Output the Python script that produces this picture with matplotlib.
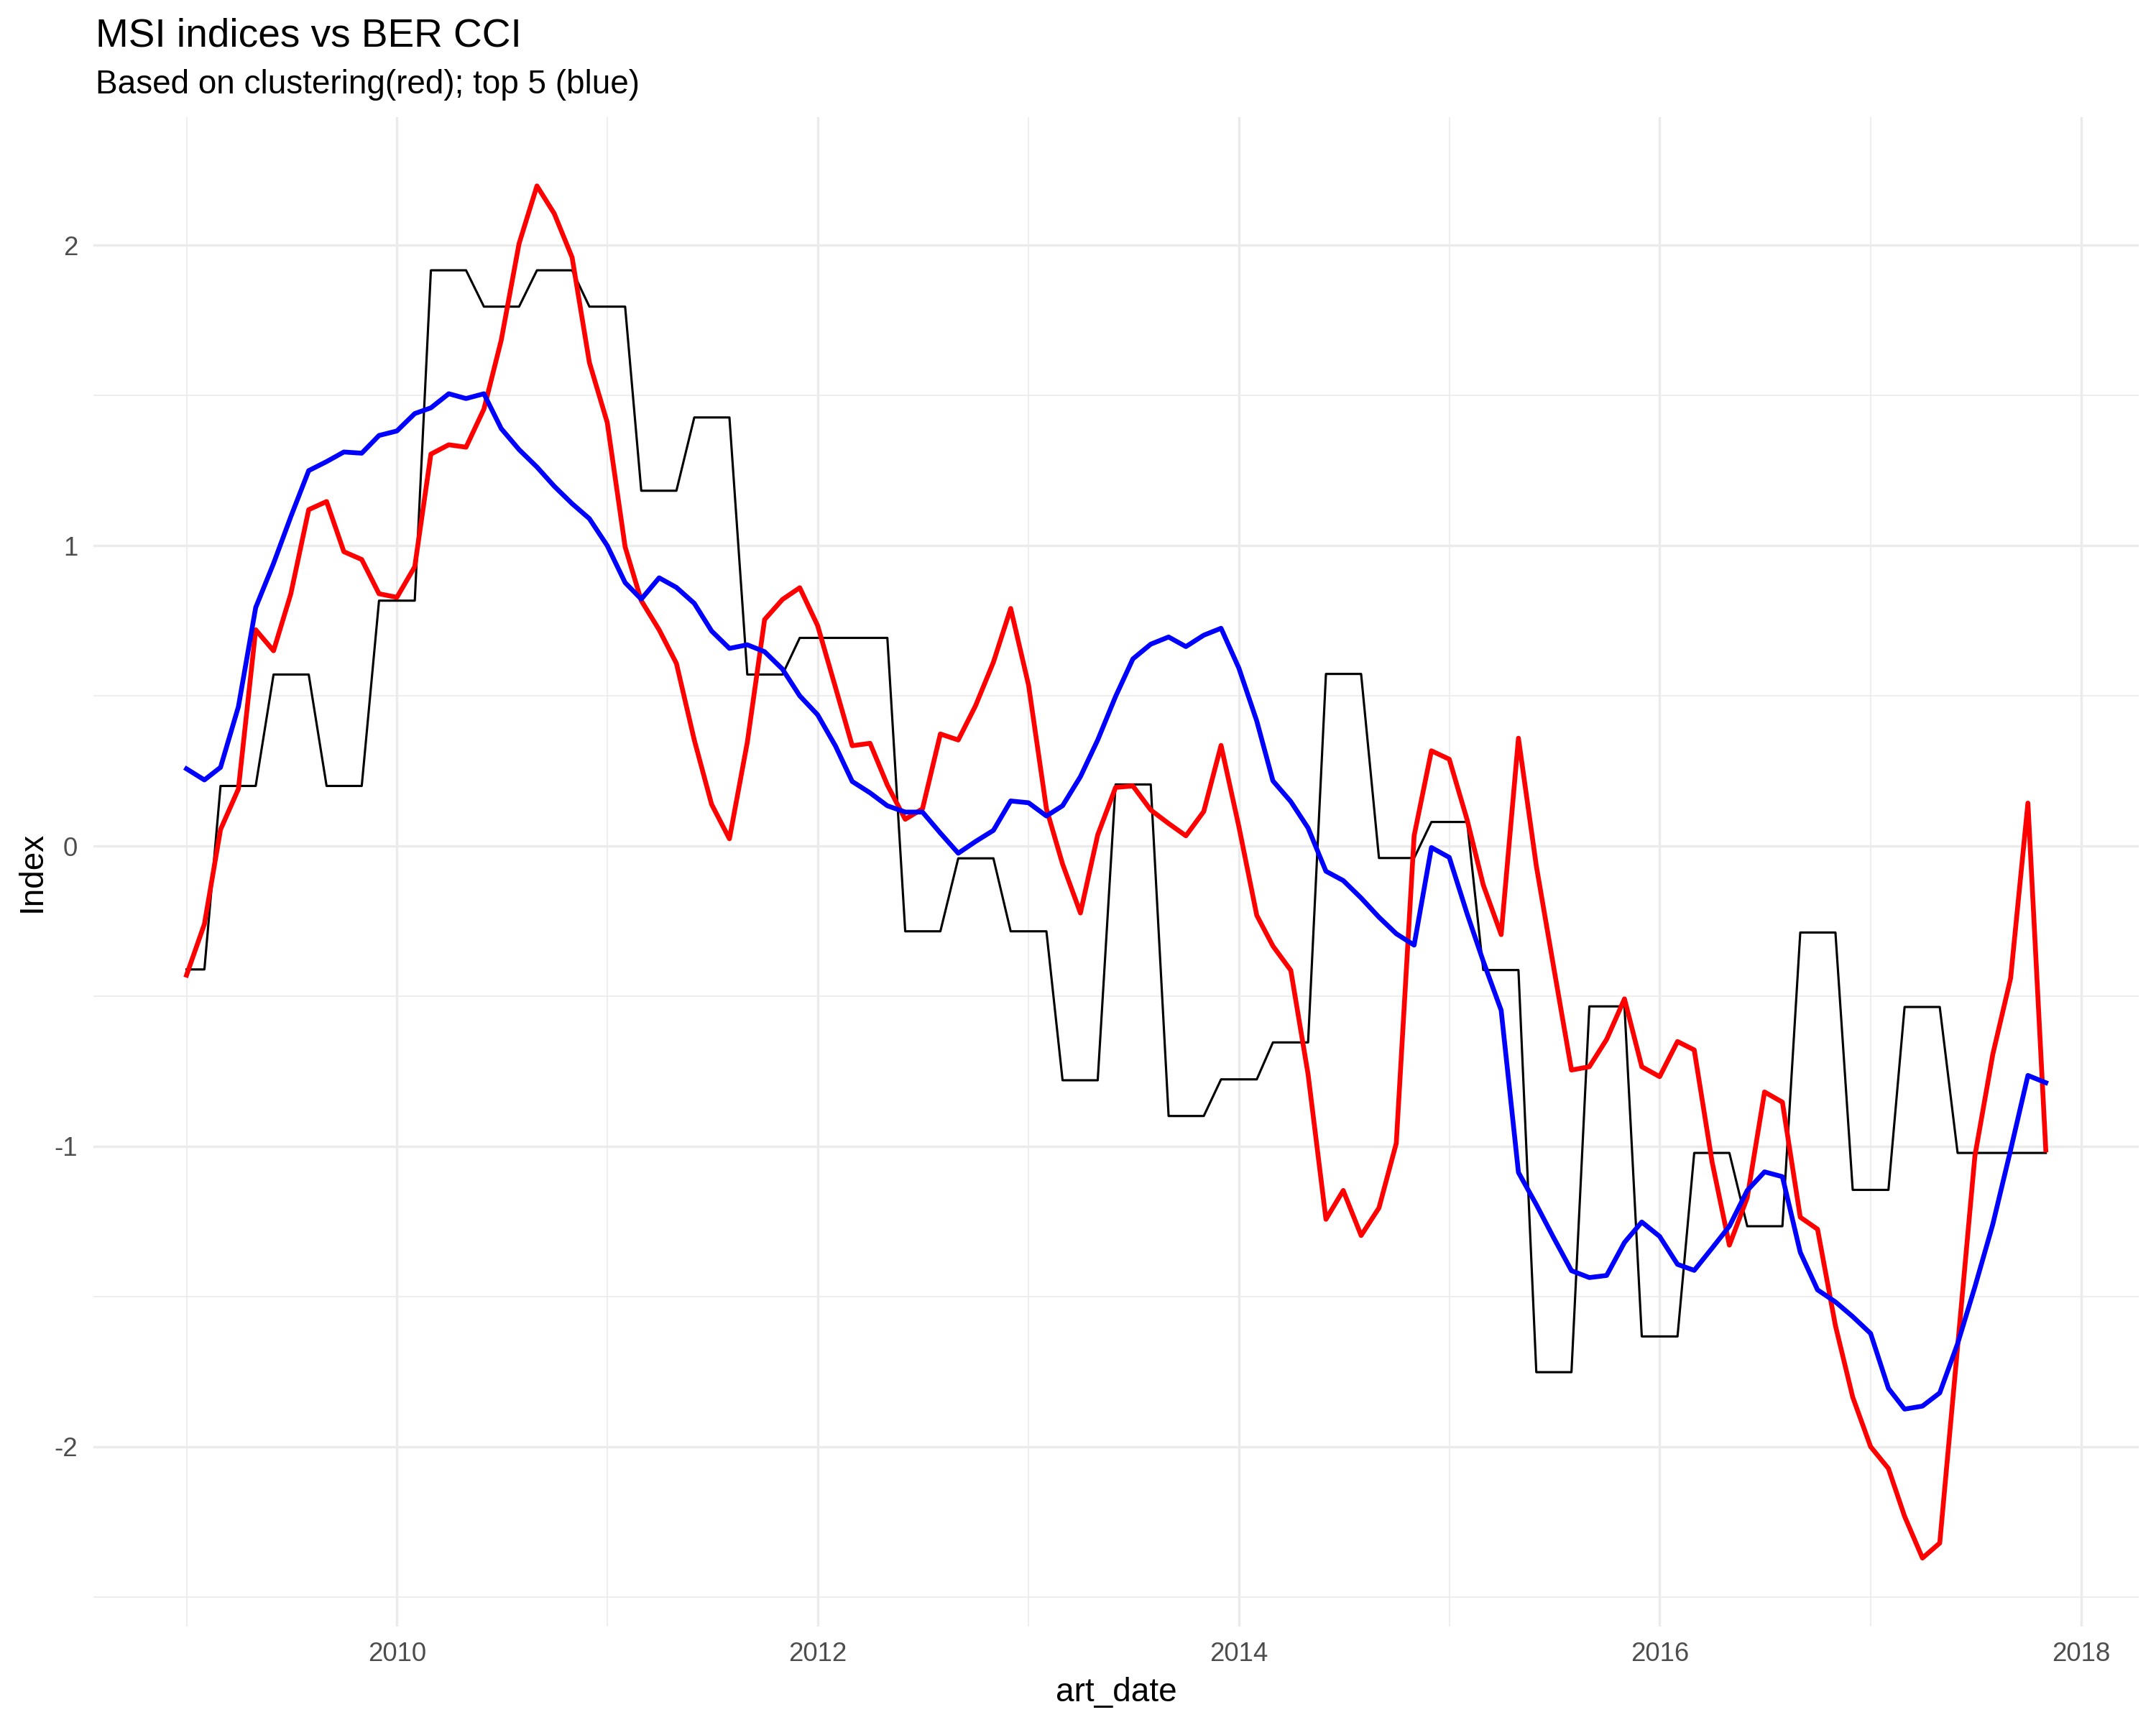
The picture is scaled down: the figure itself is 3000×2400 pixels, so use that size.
import numpy as np
import matplotlib
matplotlib.use("Agg")
import matplotlib.pyplot as plt
import matplotlib.dates as mdates
from matplotlib.ticker import MultipleLocator

# monthly observations, Jan 2009 .. Nov 2017
first_month = "2009-01"
last_month = "2017-11"

msi_cluster = [
    -0.43, -0.26, 0.055, 0.19, 0.72, 0.65, 0.84, 1.12, 1.147, 0.98, 0.954, 0.84,
    0.828, 0.93, 1.305, 1.336, 1.328, 1.455, 1.684, 2.006, 2.198, 2.106, 1.96, 1.61,
    1.41, 0.996, 0.817, 0.72, 0.608, 0.353, 0.139, 0.024, 0.345, 0.754, 0.821, 0.86,
    0.734, 0.528, 0.334, 0.342, 0.203, 0.089, 0.124, 0.373, 0.353, 0.467, 0.612, 0.791,
    0.536, 0.124, -0.06, -0.223, 0.037, 0.195, 0.2, 0.12, 0.075, 0.034, 0.115, 0.335,
    0.064, -0.231, -0.333, -0.414, -0.76, -1.243, -1.147, -1.297, -1.205, -0.99, 0.034, 0.317,
    0.289, 0.087, -0.13, -0.295, 0.359, -0.066, -0.402, -0.746, -0.735, -0.644, -0.509, -0.735,
    -0.768, -0.651, -0.679, -1.052, -1.329, -1.171, -0.819, -0.853, -1.236, -1.276, -1.597, -1.835,
    -2.0, -2.073, -2.232, -2.371, -2.321, -1.667, -1.032, -0.694, -0.44, 0.143, -1.012,
]

msi_top5 = [
    0.257, 0.22, 0.262, 0.464, 0.794, 0.941, 1.097, 1.25, 1.28, 1.312, 1.308, 1.367,
    1.382, 1.44, 1.459, 1.506, 1.49, 1.506, 1.39, 1.32, 1.262, 1.198, 1.14, 1.09,
    1.0, 0.877, 0.822, 0.893, 0.861, 0.808, 0.716, 0.658, 0.67, 0.647, 0.589, 0.5,
    0.437, 0.333, 0.215, 0.177, 0.134, 0.113, 0.113, 0.043, -0.024, 0.015, 0.052, 0.15,
    0.144, 0.1, 0.134, 0.231, 0.353, 0.498, 0.623, 0.672, 0.696, 0.664, 0.702, 0.725,
    0.592, 0.416, 0.217, 0.148, 0.06, -0.084, -0.115, -0.173, -0.237, -0.292, -0.33, -0.005,
    -0.038, -0.226, -0.384, -0.547, -1.087, -1.194, -1.304, -1.414, -1.437, -1.43, -1.32, -1.252,
    -1.3, -1.393, -1.413, -1.339, -1.266, -1.147, -1.085, -1.101, -1.353, -1.478, -1.518, -1.567,
    -1.623, -1.806, -1.875, -1.865, -1.821, -1.657, -1.468, -1.26, -1.012, -0.764, -0.788,
]

ber_cci = [
    -0.411, -0.411, 0.2, 0.2, 0.2, 0.571, 0.571, 0.571, 0.2, 0.2, 0.2, 0.817,
    0.817, 0.817, 1.917, 1.917, 1.917, 1.796, 1.796, 1.796, 1.917, 1.917, 1.917, 1.796,
    1.796, 1.796, 1.183, 1.183, 1.183, 1.427, 1.427, 1.427, 0.571, 0.571, 0.571, 0.693,
    0.693, 0.693, 0.693, 0.693, 0.693, -0.284, -0.284, -0.284, -0.041, -0.041, -0.041, -0.284,
    -0.284, -0.284, -0.78, -0.78, -0.78, 0.205, 0.205, 0.205, -0.899, -0.899, -0.899, -0.777,
    -0.777, -0.777, -0.654, -0.654, -0.654, 0.573, 0.573, 0.573, -0.04, -0.04, -0.04, 0.08,
    0.08, 0.08, -0.413, -0.413, -0.413, -1.752, -1.752, -1.752, -0.534, -0.534, -0.534, -1.633,
    -1.633, -1.633, -1.022, -1.022, -1.022, -1.266, -1.266, -1.266, -0.288, -0.288, -0.288, -1.145,
    -1.145, -1.145, -0.536, -0.536, -0.536, -1.022, -1.022, -1.022, -1.022, -1.022, -1.022,
]

art_date = np.arange(np.datetime64(first_month), np.datetime64(last_month) + 1,
                     dtype="datetime64[M]").astype("datetime64[D]")

plt.rcParams["font.family"] = ["Liberation Sans", "DejaVu Sans"]
plt.rcParams["axes.unicode_minus"] = False

fig = plt.figure(figsize=(10, 8), dpi=300)
ax = fig.add_axes([0.0434, 0.057, 0.9486, 0.875])

ax.plot(art_date, ber_cci, color="black", lw=0.75, zorder=3)
ax.plot(art_date, msi_cluster, color="#FF0000", lw=1.6, zorder=4)
ax.plot(art_date, msi_top5, color="#0000FF", lw=1.6, zorder=5)

ax.margins(x=0.05, y=0.05)

ax.xaxis.set_major_locator(mdates.YearLocator(2))
ax.xaxis.set_minor_locator(mdates.YearLocator(1))
ax.xaxis.set_major_formatter(mdates.DateFormatter("%Y"))
ax.yaxis.set_major_locator(MultipleLocator(1))
ax.yaxis.set_minor_locator(MultipleLocator(0.5))

ax.grid(which="major", color="#EBEBEB", lw=0.8)
ax.grid(which="minor", color="#EBEBEB", lw=0.4)
ax.set_axisbelow(True)
for s in ax.spines.values():
    s.set_visible(False)
ax.tick_params(which="both", length=0)
ax.tick_params(axis="x", labelsize=8.8, labelcolor="#4D4D4D", pad=5)
ax.tick_params(axis="y", labelsize=8.8, labelcolor="#4D4D4D", pad=5.3)

fig.text(0.0443, 0.9733, "MSI indices vs BER CCI", fontsize=13.2, ha="left", va="baseline")
fig.text(0.0443, 0.9458, "Based on clustering(red); top 5 (blue)", fontsize=11,
         ha="left", va="baseline")
fig.text(0.5177, 0.01375, "art_date", fontsize=11, ha="center", va="baseline")
fig.text(0.019, 0.4946, "Index", fontsize=11, rotation=90, rotation_mode="anchor",
         ha="center", va="baseline")

plt.savefig("out.png", dpi=300, facecolor="white")
